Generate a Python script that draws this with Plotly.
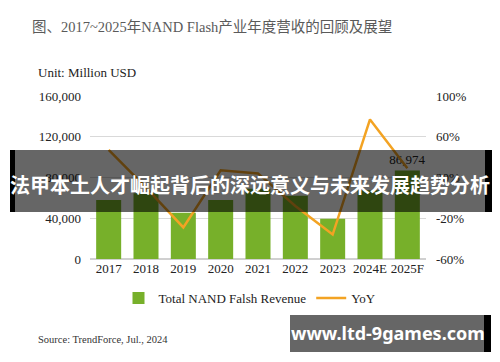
import plotly.graph_objects as go

categories = ["2017", "2018", "2019", "2020", "2021", "2022", "2023", "2024E", "2025F"]
revenue = [58000, 64500, 45500, 57800, 69000, 62000, 39500, 67500, 86974]
yoy = [47, 10, -29, 27, 24, -8, -36, 77, 29]
left_ticks = [0, 40000, 80000, 120000, 160000]
right_ticks = [-60, -20, 20, 60, 100]
right_tick_text = [f"{v}%" for v in right_ticks]

W, H = 500, 362
L, R, T, B = 90, 426, 96, 259


def px(x):
    return (x - L) / (R - L)


def py(y):
    return (B - y) / (B - T)


SERIF = "Liberation Serif, Times New Roman, Noto Sans CJK SC, serif"
GREEN = "#77B02A"
ORANGE = "#F3A323"

bar_text = ["" for _ in revenue]
bar_text[-1] = f"{revenue[-1]:,}"

fig = go.Figure()
fig.add_trace(go.Bar(
    x=categories, y=revenue, name="Total NAND Falsh Revenue",
    marker=dict(color=GREEN, line=dict(width=0)),
    text=bar_text, textposition="outside", cliponaxis=False, constraintext="none",
    textfont=dict(family=SERIF, size=13, color="#222"),
    hoverinfo="skip",
))
fig.add_trace(go.Scatter(
    x=categories, y=yoy, name="YoY", yaxis="y2", mode="lines",
    line=dict(color=ORANGE, width=2.5), hoverinfo="skip",
))

shapes = [
    # overlay banner
    dict(type="rect", xref="paper", yref="paper", layer="above",
         x0=px(10), x1=px(492), y0=py(212), y1=py(150),
         fillcolor="rgba(0,0,0,0.6)", line=dict(width=0)),
    dict(type="rect", xref="paper", yref="paper", layer="above",
         x0=px(10), x1=px(15), y0=py(212), y1=py(150),
         fillcolor="black", line=dict(width=0)),
    dict(type="rect", xref="paper", yref="paper", layer="above",
         x0=px(485), x1=px(492), y0=py(212), y1=py(150),
         fillcolor="black", line=dict(width=0)),
    # bottom-right box
    dict(type="rect", xref="paper", yref="paper", layer="above",
         x0=px(290), x1=px(484), y0=py(352), y1=py(315),
         fillcolor="rgba(0,0,0,0.6)", line=dict(width=0)),
    dict(type="rect", xref="paper", yref="paper", layer="above",
         x0=px(484), x1=px(491), y0=py(352), y1=py(315),
         fillcolor="black", line=dict(width=0)),
]

annotations = [
    dict(text="图、2017~2025年NAND Flash产业年度营收的回顾及展望",
         xref="paper", yref="paper", x=px(30), y=py(27), xanchor="left", yanchor="middle",
         showarrow=False, font=dict(family=SERIF, size=14.5, color="#5a5a5a")),
    dict(text="Unit: Million USD",
         xref="paper", yref="paper", x=px(36), y=py(72), xanchor="left", yanchor="middle",
         showarrow=False, font=dict(family=SERIF, size=13, color="#222")),
    dict(text="Source: TrendForce, Jul., 2024",
         xref="paper", yref="paper", x=px(36), y=py(339), xanchor="left", yanchor="middle",
         showarrow=False, font=dict(family=SERIF, size=10.5, color="#333")),
    dict(text="<b>法甲本土人才崛起背后的深远意义与未来发展趋势分析</b>",
         xref="paper", yref="paper", x=px(250), y=py(184), xanchor="center", yanchor="middle",
         showarrow=False, font=dict(family="Noto Sans CJK SC", size=20, color="white")),
    dict(text="<b>www.ltd-9games.com</b>",
         xref="paper", yref="paper", x=px(388), y=py(333), xanchor="center", yanchor="middle",
         showarrow=False, font=dict(family="Noto Sans, Open Sans, sans-serif", size=18, color="white")),
]

fig.update_layout(
    width=W, height=H, autosize=False,
    margin=dict(l=L, r=W - R, t=T, b=H - B, pad=0),
    paper_bgcolor="white", plot_bgcolor="white",
    bargap=0.33,
    font=dict(family=SERIF, size=13, color="#222"),
    showlegend=True,
    legend=dict(orientation="h", x=px(250), xanchor="center", y=py(298), yanchor="middle",
                font=dict(family=SERIF, size=13, color="#222"), itemwidth=30,
                bgcolor="rgba(0,0,0,0)", traceorder="normal"),
    xaxis=dict(showgrid=False, showline=False, ticks="", tickfont=dict(size=13, color="#222"),
               fixedrange=True),
    yaxis=dict(range=[0, 160000], tickmode="array", tickvals=left_ticks, tickformat=",",
               showgrid=True, gridcolor="#d9d9d9", gridwidth=1, zeroline=True,
               zerolinecolor="#d0d0d0", showline=False, ticks="", ticklabelstandoff=8,
               tickfont=dict(size=13, color="#222")),
    yaxis2=dict(range=[-60, 100], tickmode="array", tickvals=right_ticks, ticktext=right_tick_text,
                overlaying="y", side="right", showgrid=False, zeroline=False, showline=False,
                ticks="", ticklabelstandoff=9, tickfont=dict(size=13, color="#222")),
    shapes=shapes,
    annotations=annotations,
)

fig.write_html("out.html", config={"displayModeBar": False},
               post_script="document.body.style.margin='0px';document.body.style.overflow='hidden';")
